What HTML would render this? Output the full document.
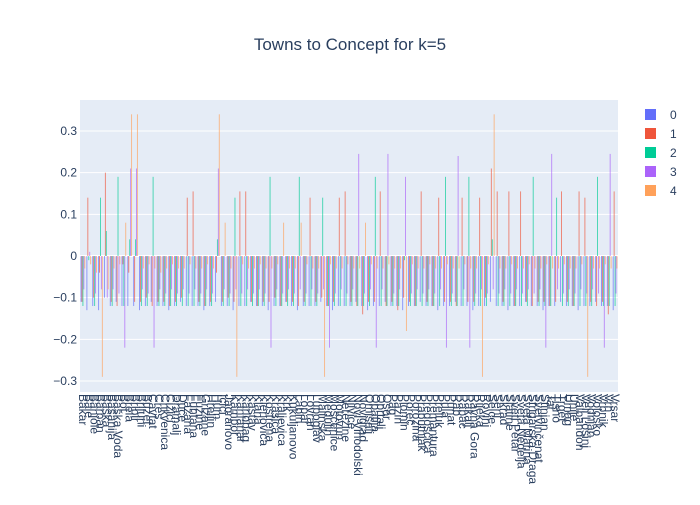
<!DOCTYPE html>
<html><head><meta charset="utf-8"><style>
body{margin:0;background:#fff;font-family:"Liberation Sans",sans-serif}
svg text{font-family:"Liberation Sans","DejaVu Sans",sans-serif;fill:#2a3f5f}
</style></head><body>
<svg id="c" width="700" height="500"></svg>
<script>
const towns=["Bakar","Bale","Banjole","Barban","Baška","Bašanija","Baška Voda","Bol","Brela","Bribir","Brijuni","Buzet","Cavtat","Cres","Crikvenica","Čižići","Dramalj","Duće","Fažana","Funtana","Fužine","Grižane","Hreljin","Hum","Icici","Jadranovo","Kampor","Kanfanar","Karlobag","Kastav","Klana","Klenovica","Kostrena","Krasica","Kraljevica","Krk","Kukuljanovo","Labin","Lopar","Lovran","Lupoglav","Malinska","Medulin","Mošćenice","Motovun","Nerezine","Njivice","Novi Vinodolski","Novigrad","Omišalj","Opatija","Oprtalj","Osor","Pag","Pazin","Plomin","Poreč","Porozina","Praputnjak","Predošćica","Premantura","Preluk","Pula","Punat","Rab","Rabac","Rakalj","Ravna Gora","Rijeka","Rovinj","Selce","Senj","Skrad","Slatine","Sveti Petar","Sveta Nedelja","Sveta Marina","Štrigarska Draga","Svetvinčenat","Štinjan","Tar","Tisno","Trget","Umag","Unije","Valbandon","Veli Lošinj","Vodnjan","Volosko","Vrbnik","Vrh","Vrsar"];
const seriesNames=["0","1","2","3","4"];
const s0=[-0.11,-0.13,-0.12,-0.13,-0.1,-0.12,-0.11,-0.12,-0.12,-0.12,
-0.13,-0.12,-0.11,-0.12,-0.12,-0.13,-0.12,-0.11,-0.12,-0.12,
-0.12,-0.13,-0.12,-0.11,-0.12,-0.12,-0.13,-0.12,-0.12,-0.11,
-0.12,-0.12,-0.13,-0.12,-0.12,-0.11,-0.12,-0.13,-0.12,-0.12,
-0.12,-0.11,-0.12,-0.13,-0.12,-0.12,-0.12,-0.11,-0.12,-0.13,
-0.12,-0.12,-0.11,-0.12,-0.12,-0.13,-0.12,-0.12,-0.11,-0.12,
-0.12,-0.13,-0.12,-0.12,-0.11,-0.12,-0.12,-0.13,-0.12,-0.12,
-0.11,-0.12,-0.12,-0.13,-0.12,-0.12,-0.11,-0.12,-0.12,-0.13,
-0.12,-0.12,-0.11,-0.12,-0.12,-0.13,-0.12,-0.12,-0.11,-0.12,
-0.12,-0.13];
const s1=[-0.11,0.14,-0.1,-0.04,0.20,-0.11,-0.12,-0.02,-0.04,-0.11,
-0.11,-0.1,-0.12,-0.11,-0.11,-0.12,-0.11,-0.1,0.14,0.155,
-0.11,-0.12,-0.11,-0.04,-0.11,-0.1,-0.11,0.155,0.155,-0.11,
-0.12,-0.11,-0.11,-0.1,-0.12,-0.11,-0.11,-0.12,-0.11,0.14,
-0.11,-0.1,-0.12,-0.11,0.14,0.155,-0.11,-0.12,-0.14,-0.11,
-0.11,0.155,-0.12,-0.11,-0.13,-0.1,-0.11,-0.12,0.155,-0.11,
-0.12,0.14,-0.11,-0.11,-0.12,0.14,-0.11,-0.11,0.14,-0.1,
0.21,0.155,-0.11,0.155,-0.12,0.155,-0.11,-0.12,-0.11,-0.11,
-0.12,-0.11,0.155,-0.11,-0.12,0.155,0.14,-0.11,-0.12,-0.11,
-0.14,0.155];
const s2=[-0.12,-0.01,-0.12,0.14,0.06,-0.12,0.19,-0.12,0.04,0.04,
-0.12,-0.12,0.19,-0.12,-0.12,-0.12,-0.12,-0.12,-0.12,-0.12,
-0.12,-0.12,-0.12,0.04,-0.12,-0.12,0.14,-0.12,-0.12,-0.12,
-0.12,-0.12,0.19,-0.12,-0.12,-0.12,-0.12,0.19,-0.12,-0.12,
-0.12,0.14,-0.12,-0.12,-0.12,-0.12,-0.12,-0.12,-0.12,-0.12,
0.19,-0.12,-0.12,-0.12,-0.12,-0.01,-0.12,-0.12,-0.12,-0.12,
-0.12,-0.12,0.19,-0.12,-0.12,-0.12,0.19,-0.12,-0.12,-0.12,
0.04,-0.12,-0.12,-0.12,-0.12,-0.12,-0.12,0.19,-0.12,-0.12,
-0.12,0.14,-0.12,-0.12,-0.12,-0.12,-0.12,-0.12,0.19,-0.12,
-0.12,-0.12];
const s3=[-0.08,0.01,-0.09,-0.08,-0.1,-0.08,-0.09,-0.22,0.21,0.21,
-0.08,-0.09,-0.22,-0.08,-0.09,-0.08,-0.09,-0.08,-0.09,-0.08,
-0.09,-0.08,-0.09,0.21,-0.08,-0.09,-0.08,-0.09,-0.08,-0.09,
-0.08,-0.09,-0.22,-0.08,-0.09,-0.08,-0.09,-0.08,-0.09,-0.08,
-0.09,-0.08,-0.22,-0.09,-0.08,-0.09,-0.08,0.245,-0.09,-0.08,
-0.22,-0.08,0.245,-0.09,-0.08,0.19,-0.09,-0.08,-0.09,-0.08,
-0.09,-0.08,-0.22,-0.09,0.24,-0.08,-0.22,-0.09,-0.08,-0.09,
-0.08,-0.09,-0.08,-0.09,-0.08,-0.09,-0.08,-0.09,-0.08,-0.22,
0.245,-0.08,-0.09,-0.08,-0.09,-0.08,-0.09,-0.08,-0.09,-0.22,
0.245,-0.09];
const s4=[-0.03,-0.02,-0.04,-0.29,-0.08,-0.03,-0.02,0.08,0.34,0.34,
-0.03,-0.02,-0.03,-0.04,-0.03,-0.02,-0.03,-0.03,-0.02,-0.03,
-0.03,-0.02,-0.03,0.34,0.08,-0.03,-0.29,-0.02,-0.03,-0.03,
-0.02,-0.03,-0.03,-0.02,0.08,-0.03,-0.03,0.08,-0.02,-0.03,
-0.03,-0.29,-0.02,-0.03,-0.03,-0.02,-0.03,-0.03,0.08,-0.02,
-0.03,-0.03,-0.02,-0.03,-0.03,-0.18,-0.02,-0.03,-0.03,-0.02,
-0.03,-0.03,-0.02,-0.03,-0.03,-0.02,-0.03,-0.03,-0.29,-0.02,
0.34,-0.03,-0.03,-0.02,-0.03,-0.03,-0.02,-0.03,-0.03,-0.02,
-0.03,-0.03,-0.02,-0.03,-0.03,-0.02,-0.29,-0.03,-0.03,-0.02,
-0.03,-0.03];
const yTicks=[-0.3,-0.2,-0.1,0,0.1,0.2,0.3];
const colors=["#636efa","#EF553B","#00cc96","#ab63fa","#FFA15A"];
const series=[s0,s1,s2,s3,s4];

const NS="http://www.w3.org/2000/svg";
const svg=document.getElementById('c');
const X0=80,X1=618,Y0=100,Y1=392;
const y=v=>256-v*416.7;
const bw=(X1-X0)/towns.length;
function mk(t,a,p){const e=document.createElementNS(NS,t);for(const k in a)e.setAttribute(k,a[k]);(p||svg).appendChild(e);return e;}

const bg=mk('rect',{x:X0,y:Y0,width:X1-X0,height:Y1-Y0,fill:'#e5ecf6'});


yTicks.forEach(t=>{
  const g=mk('line',{x1:X0,x2:X1,y1:y(t),y2:y(t),stroke:'#fff','stroke-width':t===0?2:1});
  
  
  const l=mk('text',{x:X0-3,y:y(t)+4,'text-anchor':'end','font-size':12});
  l.textContent=t===0?'0':t.toFixed(1).replace('-','−');
  
  
});
const sub=bw*0.8/series.length;
series.forEach((s,k)=>{
  s.forEach((v,i)=>{
    const x=X0+i*bw+bw*0.1+k*sub;
    const r=mk('rect',{x:x,y:Math.min(y(v),y(0)),width:sub,height:Math.abs(y(v)-y(0)),fill:colors[k],opacity:0.7});
    
    
  });
});
towns.forEach((t,i)=>{
  const cx=X0+(i+0.5)*bw;
  const l=mk('text',{x:0,y:0,'font-size':12,transform:`translate(${cx-4},${Y1+2}) rotate(90)`});
  l.textContent=t;
  
  
});
const title=mk('text',{x:350,y:50,'text-anchor':'middle','font-size':17});
title.textContent='Towns to Concept for k=5';


seriesNames.forEach((n,k)=>{
  const yy=115+k*19;
  const r=mk('rect',{x:645,y:yy-6,width:11,height:11,fill:colors[k]});
  
  
  const t=mk('text',{x:670,y:yy+4,'font-size':12});
  t.textContent=n;
  
  
});
</script>
</body></html>
